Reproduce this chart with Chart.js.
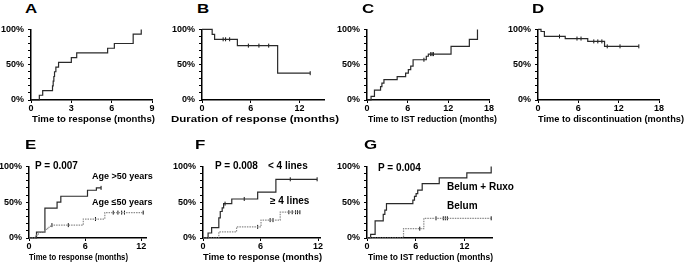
<!DOCTYPE html>
<html>
<head>
<meta charset="utf-8">
<script src="https://cdn.jsdelivr.net/npm/chart.js@4.4.1/dist/chart.umd.min.js"></script>
<style>
html,body{margin:0;padding:0;background:#fff;}
#fig{position:relative;width:685px;height:265px;overflow:hidden;background:#fff;
  font-family:"Liberation Sans",Arial,sans-serif;font-weight:bold;color:#000;}
#fig canvas{position:absolute;}
.txt{position:absolute;line-height:1;white-space:nowrap;}
.xtitle{position:absolute;line-height:1;white-space:nowrap;transform-origin:0 50%;}
.letter{position:absolute;line-height:1;font-size:13px;transform-origin:0 0;transform:scaleX(1.3);}
</style>
</head>
<body>
<div id="fig"></div>
<script>
// ---------------- data (months, % of patients) ----------------
const A_time = [0, 0.62, 0.87, 1.6, 1.65, 1.7, 1.75, 1.85, 2.05, 3.0, 3.4, 5.7, 6.2, 7.6, 8.2];
const A_pct  = [0, 6.7, 13.3, 20, 26.7, 33.3, 40, 46.7, 53.3, 60, 66.7, 73.3, 80, 93.3, 100];

const B_time = [0, 1.25, 1.55, 4.35, 9.3, 13.3];
const B_pct  = [100, 93, 86, 77, 38, 38];
const B_cens = [2.6, 2.9, 3.4, 5.7, 7.0, 8.2, 13.3];

const C_time = [0, 0.6, 1.1, 2.0, 2.2, 2.5, 4.45, 5.7, 6.1, 6.45, 6.8, 8.75, 9.05, 12.4, 15.1, 16.3];
const C_pct  = [0, 5, 14, 19, 24, 29, 33, 38, 43, 48, 57, 62, 65, 76, 86, 100];
const C_cens = [8.4, 9.4, 9.6, 9.8];

const D_time = [0, 0.45, 0.95, 4.05, 7.4, 9.9, 15.0];
const D_pct  = [100, 97, 90, 87, 83, 76, 76];
const D_cens = [3.2, 5.8, 6.4, 8.3, 8.9, 9.5, 10.3, 12.2, 15.0];

const E_older_time = [0, 0.8, 1.7, 3.0, 3.4, 6.25, 7.2, 7.7];
const E_older_pct  = [0, 8.3, 41.7, 50, 58.3, 66.7, 70, 70];
const E_older_cens = [7.7];
const E_younger_time = [0, 0.7, 1.0, 1.7, 2.0, 2.3, 5.8, 8.1, 12.2];
const E_younger_pct  = [0, 4, 8, 12, 15, 18, 26.5, 35.5, 35.5];
const E_younger_cens = [2.45, 4.2, 7.1, 9.0, 9.5, 9.9, 10.2, 12.2];

const F_fewer_time = [0, 0.53, 0.9, 1.65, 1.8, 2.0, 2.15, 3.0, 5.7, 7.6, 11.9];
const F_fewer_pct  = [0, 7, 14.5, 28, 37, 42, 48, 54.5, 64, 82, 82];
const F_fewer_cens = [2.3, 4.3, 9.1, 11.9];
const F_more_time = [0, 1.65, 3.5, 6.05, 8.05, 10.1];
const F_more_pct  = [0, 8.5, 15.5, 25, 36, 36];
const F_more_cens = [5.7, 7.0, 7.3, 8.95, 9.3, 9.65, 9.85, 10.1];

const G_combo_time = [0, 0.45, 1.0, 2.0, 2.2, 2.4, 5.65, 5.85, 6.05, 6.25, 6.8, 8.9, 12.3, 15.3];
const G_combo_pct  = [0, 5, 24, 33, 39, 48, 53, 58, 62, 67, 76, 84, 91, 100];
const G_combo_cens = [];
const G_mono_time = [0, 4.5, 7.0, 15.3];
const G_mono_pct  = [0, 13, 27.5, 27.5];
const G_mono_cens = [6.5, 8.5, 9.4, 9.65, 9.9, 15.3];

// tick labels
const Y_LABELED = [0, 50, 100];
const X_TITLES = {
  A: 'Time to response (months)',
  B: 'Duration of response (months)',
  C: 'Time to IST reduction (months)',
  D: 'Time to discontinuation (months)',
  E: 'Time to response (months)',
  F: 'Time to response (months)',
  G: 'Time to IST reduction (months)'
};
const ANNOTATIONS = {
  E: ['P = 0.007', 'Age >50 years', 'Age \u226450 years'],
  F: ['P = 0.008', '< 4 lines', '\u2265 4 lines'],
  G: ['P = 0.004', 'Belum + Ruxo', 'Belum']
};

// ---------------- layout & styles ----------------
const FONT = '"Liberation Sans", Arial, sans-serif';
const SOLID = {color: '#2a2a2a', dash: []};
const DOTTED = {color: '#8c8c8c', dash: [1.5, 1]};
const Y_AXIS_W = 34;

const panels = [
  {key:'A', axisX:31,  areaTop:26,  areaBottom:100, areaRight:152, xMax:9,    xStep:3, xAxisH:26,
   series:[{t:A_time, p:A_pct, c:[], s:SOLID}]},
  {key:'B', axisX:202, areaTop:26,  areaBottom:100, areaRight:324, xMax:15,   xStep:6, xAxisH:26,
   series:[{t:B_time, p:B_pct, c:B_cens, s:SOLID}]},
  {key:'C', axisX:367, areaTop:26,  areaBottom:100, areaRight:489, xMax:18,   xStep:6, xAxisH:26,
   series:[{t:C_time, p:C_pct, c:C_cens, s:SOLID}]},
  {key:'D', axisX:538, areaTop:26,  areaBottom:100, areaRight:659, xMax:18,   xStep:6, xAxisH:26,
   series:[{t:D_time, p:D_pct, c:D_cens, s:SOLID}]},
  {key:'E', axisX:29,  areaTop:163, areaBottom:238, areaRight:146, xMax:12.5, xStep:6, xAxisH:25,
   series:[{t:E_younger_time, p:E_younger_pct, c:E_younger_cens, s:DOTTED},
           {t:E_older_time, p:E_older_pct, c:E_older_cens, s:SOLID}]},
  {key:'F', axisX:203, areaTop:163, areaBottom:238, areaRight:320, xMax:12.2, xStep:6, xAxisH:25,
   series:[{t:F_more_time, p:F_more_pct, c:F_more_cens, s:DOTTED},
           {t:F_fewer_time, p:F_fewer_pct, c:F_fewer_cens, s:SOLID}]},
  {key:'G', axisX:367, areaTop:163, areaBottom:238, areaRight:492, xMax:15.4, xStep:6, xAxisH:25,
   series:[{t:G_mono_time, p:G_mono_pct, c:G_mono_cens, s:DOTTED},
           {t:G_combo_time, p:G_combo_pct, c:G_combo_cens, s:SOLID}]}
];

// panel letters (left, cap top)
const letterPos = {A:[25,4], B:[197,4], C:[362,4], D:[532,4], E:[25,140], F:[195,140], G:[364,140]};
// axis titles (left, target width, cap centre, font size)
const titlePos = {
  A:[32,123,119,9.5], B:[171,168,119,9.5], C:[368,129,119,9.5], D:[538,146,119,9.5],
  E:[29,99,257,9], F:[203,119,257,9], G:[368,125,257,9]
};
// annotation positions (left, cap centre, font size)
const annoPos = {
  E: [[35,166,10],[92,176,9],[92,202,9]],
  F: [[215,166,10],[268,166,10],[270,201,10]],
  G: [[378,168,10],[447,187,10],[447,206,10]]
};

function stepValue(times, pcts, t) {
  let v = pcts[0];
  for (let i = 0; i < times.length; i++) if (times[i] <= t + 1e-9) v = pcts[i];
  return v;
}

const fig = document.getElementById('fig');
const PAD_TOP = 6, PAD_RIGHT = 12;

panels.forEach(p => {
  const left = p.axisX - Y_AXIS_W;
  const top = p.areaTop - PAD_TOP;
  const width = p.areaRight - left + PAD_RIGHT;
  const height = p.areaBottom + p.xAxisH - top;
  const cv = document.createElement('canvas');
  cv.width = width; cv.height = height;
  cv.style.left = left + 'px'; cv.style.top = top + 'px';
  cv.style.width = width + 'px'; cv.style.height = height + 'px';
  fig.appendChild(cv);

  const datasets = [];
  p.series.forEach(s => {
    datasets.push({
      type: 'line',
      data: s.t.map((t, i) => ({x: t, y: s.p[i]})),
      stepped: true,
      borderColor: s.s.color,
      borderWidth: 1.2,
      borderDash: s.s.dash,
      pointRadius: 0,
      fill: false,
      clip: false
    });
    if (s.c.length) {
      datasets.push({
        type: 'scatter',
        data: s.c.map(t => ({x: t, y: stepValue(s.t, s.p, t)})),
        pointStyle: 'line',
        rotation: 90,
        pointRadius: 2,
        borderColor: '#111',
        borderWidth: 1,
        showLine: false,
        clip: false
      });
    }
  });

  const tickFont = {family: FONT, size: 9, weight: 'bold'};
  const gridOpts = {drawOnChartArea: false, drawTicks: true, tickLength: 3, color: '#000', lineWidth: 1};
  const borderOpts = {display: true, color: '#000', width: 1.5};

  new Chart(cv, {
    data: {datasets},
    options: {
      responsive: false,
      animation: false,
      events: [],
      layout: {padding: {left: 0, top: PAD_TOP, right: PAD_RIGHT, bottom: 0}},
      plugins: {legend: {display: false}, tooltip: {enabled: false}, title: {display: false}},
      scales: {
        x: {
          type: 'linear', min: 0, max: p.xMax,
          afterFit: (sc) => { sc.height = p.xAxisH; },
          ticks: {stepSize: p.xStep, includeBounds: false, autoSkip: false, maxRotation: 0,
                  padding: 0, color: '#000', font: tickFont},
          grid: gridOpts,
          border: borderOpts,
          title: {display: false}
        },
        y: {
          type: 'linear', min: 0, max: 100,
          afterFit: (sc) => { sc.width = Y_AXIS_W; },
          ticks: {stepSize: 10, autoSkip: false, padding: 4, color: '#000', font: tickFont,
                  callback: (v) => Y_LABELED.includes(v) ? v + '%' : ''},
          grid: gridOpts,
          border: borderOpts
        }
      }
    }
  });

  // panel letter
  const L = document.createElement('div');
  L.className = 'letter';
  L.textContent = p.key;
  L.style.left = letterPos[p.key][0] + 'px';
  L.style.top = (letterPos[p.key][1] - 0.13 * 13) + 'px';
  fig.appendChild(L);

  // x-axis title (fitted to the width it has in the figure)
  const [tx, tw, tyc, tfs] = titlePos[p.key];
  const T = document.createElement('div');
  T.className = 'xtitle';
  T.textContent = X_TITLES[p.key];
  T.style.fontSize = tfs + 'px';
  T.style.left = tx + 'px';
  T.style.top = (tyc - 0.49 * tfs) + 'px';
  fig.appendChild(T);
  const natural = T.getBoundingClientRect().width;
  if (natural > 0) T.style.transform = 'scaleX(' + (tw / natural).toFixed(3) + ')';

  // annotations
  if (ANNOTATIONS[p.key]) {
    ANNOTATIONS[p.key].forEach((txt, i) => {
      const [x, yc, fs] = annoPos[p.key][i];
      const d = document.createElement('div');
      d.className = 'txt';
      d.textContent = txt;
      d.style.fontSize = fs + 'px';
      d.style.left = x + 'px';
      d.style.top = (yc - 0.49 * fs) + 'px';
      fig.appendChild(d);
    });
  }
});
</script>
</body>
</html>
